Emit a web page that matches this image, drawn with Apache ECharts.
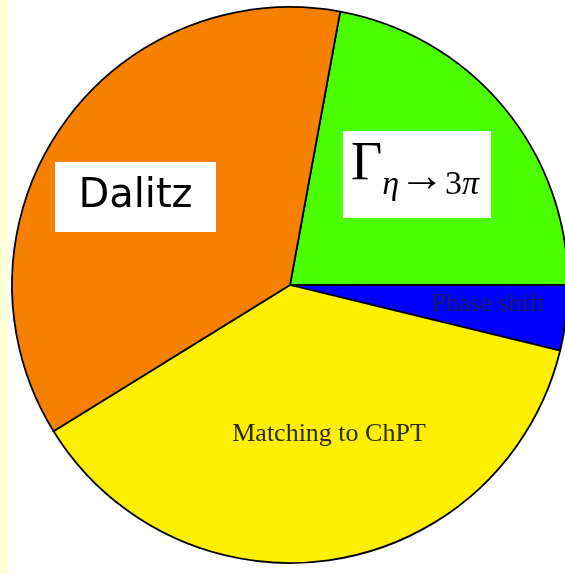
<!DOCTYPE html>
<html>
<head>
<meta charset="utf-8">
<script src="https://cdn.jsdelivr.net/npm/echarts@6/dist/echarts.min.js"></script>
<style>
    html, body { margin: 0; padding: 0; }
    body { background: linear-gradient(to right, #ffffd6 8px, #ffffff 8px); }
    #chart_budget { width: 565px; height: 574px; }
</style>
</head>
<body>
<div id="chart_budget"></div>
<script>
// Slices, clockwise from the green one
var names = ['Gamma', 'Phase shift', 'Matching to ChPT', 'Dalitz'];
var shares = [22.1, 3.8, 37.4, 36.7];
var colors = ['#4cff00', '#0000ff', '#ffef00', '#f88000'];

// where each label box sits
var labelSpots = [[417, 174.5], [488, 304], [329, 434], [135.5, 197]];

function create_error_budget() {
    var myChart = echarts.init(document.getElementById("chart_budget"));

    var sub = {fontFamily: 'Liberation Serif', fontStyle: 'italic', fontSize: 34, lineHeight: 34, color: '#000', verticalAlign: 'bottom'};
    var labels = [
        {
            formatter: '{g|Γ}{s|η}{a|→}{n|3}{s|π}',
            backgroundColor: '#ffffff',
            padding: [7, 12, 16, 8],
            rich: {
                g: {fontFamily: 'Liberation Serif', fontSize: 54, color: '#000', padding: [0, 0, 10, 0], verticalAlign: 'top'},
                s: sub,
                a: {fontFamily: 'Liberation Serif', fontSize: 46, lineHeight: 34, color: '#000', verticalAlign: 'bottom'},
                n: {fontFamily: 'Liberation Serif', fontSize: 34, lineHeight: 34, color: '#000', verticalAlign: 'bottom'}
            }
        },
        {
            formatter: '{b}',
            fontFamily: 'Liberation Serif',
            fontSize: 26,
            color: '#1a1a66'
        },
        {
            formatter: '{b}',
            fontFamily: 'Liberation Serif',
            fontSize: 26,
            color: '#2d2a10'
        },
        {
            formatter: '{b}',
            fontFamily: 'DejaVu Sans',
            fontSize: 40,
            color: '#000',
            backgroundColor: '#ffffff',
            width: 161,
            height: 70,
            lineHeight: 70,
            align: 'center'
        }
    ];

    var formatData = [];
    for (var i = 0; i < names.length; i++) {
        formatData.push({
            name: names[i],
            value: shares[i],
            itemStyle: {color: colors[i]},
            label: labels[i]
        });
    }

    var option = {
        animation: false,
        series: [
            {
                type: 'pie',
                center: [290, 285],
                radius: [0, 278],
                startAngle: 79.6,
                clockwise: true,
                silent: true,
                itemStyle: {
                    borderColor: '#000',
                    borderWidth: 1.8
                },
                label: {
                    show: true,
                    position: 'inside'
                },
                labelLine: {show: false},
                labelLayout: function (params) {
                    var spot = labelSpots[params.dataIndex];
                    return {x: spot[0], y: spot[1], align: 'center', verticalAlign: 'middle'};
                },
                data: formatData
            }
        ]
    };
    myChart.setOption(option);
}

create_error_budget();
</script>
</body>
</html>
